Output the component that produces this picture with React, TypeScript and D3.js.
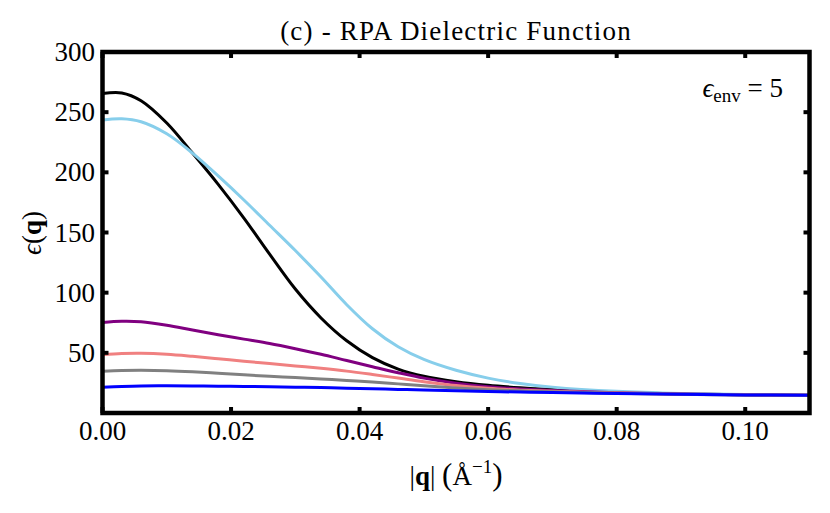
import React, { useEffect } from 'react';
import * as d3 from 'd3';

// |q| sample points (1/Å) shared by every curve
const qGrid = [0, 0.003, 0.006, 0.01, 0.014, 0.018, 0.022, 0.026, 0.03, 0.034, 0.038, 0.042, 0.046, 0.05, 0.055, 0.06, 0.065, 0.07, 0.08, 0.09, 0.1, 0.11];

const epsBlack = [265.5, 266, 259.5, 241, 216, 190, 162, 132, 103, 79, 60, 46, 36.5, 30.5, 26, 23, 21, 19.5, 17.2, 15.8, 15.1, 14.7];
const epsSky = [243.5, 244.5, 242, 232, 216, 197, 177, 156, 135, 113, 90, 70, 55, 44.5, 35.5, 29, 24.5, 21.5, 18, 16.2, 15.3, 14.8];
const epsPurple = [75.3, 76.3, 75.9, 73, 69, 65.1, 61.4, 57.7, 53.4, 48.8, 43.6, 38.5, 33.5, 29, 24.8, 21.8, 20, 18.7, 16.9, 15.7, 15.1, 14.7];
const epsCoral = [48.5, 49.4, 49.6, 48.8, 47.1, 45.1, 43, 41.1, 39.1, 37.1, 34.8, 32, 29, 26, 22.8, 20.5, 19, 18, 16.6, 15.6, 15.1, 14.7];
const epsGray = [34.7, 35.3, 35.5, 35.2, 34.3, 33, 31.7, 30.5, 29.4, 28.3, 27.1, 25.8, 24.2, 22.6, 20.8, 19.4, 18.4, 17.6, 16.4, 15.5, 15, 14.7];
const epsBlue = [21.5, 22.1, 22.5, 22.6, 22.5, 22.3, 22.1, 21.8, 21.5, 21.1, 20.6, 20.1, 19.6, 19.1, 18.5, 17.9, 17.4, 17, 16.2, 15.5, 15, 14.7];

const seriesList = [
  { name: 'black', color: '#000000', values: epsBlack },
  { name: 'sky', color: '#87CEEB', values: epsSky },
  { name: 'purple', color: '#800080', values: epsPurple },
  { name: 'coral', color: '#F08080', values: epsCoral },
  { name: 'gray', color: '#808080', values: epsGray },
  { name: 'blue', color: '#0000FF', values: epsBlue },
];

const xTicks = [0, 0.02, 0.04, 0.06, 0.08, 0.1];
const yTicks = [50, 100, 150, 200, 250, 300];

const W = 830;
const H = 513;
const FONT = '"Liberation Serif", "Times New Roman", serif';

export default function App() {
  useEffect(() => {
    document.body.style.margin = '0';
  }, []);

  const x = d3.scaleLinear().domain([0, 0.11]).range([102.5, 809.5]);
  const y = d3.scaleLinear().domain([0, 300]).range([413, 52]);

  const line = d3.line<number>()
    .x((_, i) => x(qGrid[i]))
    .y(d => y(d))
    .curve(d3.curveCatmullRom.alpha(0.5));

  const [x0, x1] = x.range();
  const [yb, yt] = y.range();
  const tickLen = 6;

  return (
    <svg width={W} height={H} viewBox={`0 0 ${W} ${H}`} style={{ display: 'block', background: '#fff' }}>
      <defs>
        <clipPath id="plot-area">
          <rect x={x0} y={yt} width={x1 - x0} height={yb - yt} />
        </clipPath>
      </defs>

      {/* curves */}
      <g clipPath="url(#plot-area)" fill="none" strokeWidth={3} strokeLinecap="round">
        {seriesList.map(s => (
          <path key={s.name} d={line(s.values) || ''} stroke={s.color} />
        ))}
      </g>

      {/* ticks, inward on all four sides */}
      <g stroke="#000" strokeWidth={4}>
        {xTicks.map(t => (
          <g key={'xt' + t}>
            <line x1={x(t)} x2={x(t)} y1={yb} y2={yb - tickLen} />
            <line x1={x(t)} x2={x(t)} y1={yt} y2={yt + tickLen} />
          </g>
        ))}
        {yTicks.map(t => (
          <g key={'yt' + t}>
            <line x1={x0} x2={x0 + tickLen} y1={y(t)} y2={y(t)} />
            <line x1={x1} x2={x1 - tickLen} y1={y(t)} y2={y(t)} />
          </g>
        ))}
      </g>

      {/* frame */}
      <rect x={x0} y={yt} width={x1 - x0} height={yb - yt} fill="none" stroke="#000" strokeWidth={4.5} />

      <g fontFamily={FONT} fontSize={27} fill="#000">
        {xTicks.map(t => (
          <text key={'xl' + t} x={x(t)} y={440} textAnchor="middle">{t.toFixed(2)}</text>
        ))}
        {yTicks.map(t => (
          <text key={'yl' + t} x={95} y={y(t) + 9} textAnchor="end">{t}</text>
        ))}

        <text x={(x0 + x1) / 2} y={40} textAnchor="middle" letterSpacing={1.2}>(c) - RPA Dielectric Function</text>

        <text x={(x0 + x1) / 2} y={485} textAnchor="middle">
          |<tspan fontWeight="bold">q</tspan>| <tspan fontSize={31}>(</tspan>Å<tspan fontSize={19} dy={-12}>−1</tspan><tspan dy={12} fontSize={31}>)</tspan>
        </text>

        <text transform="translate(41,233) rotate(-90)" textAnchor="middle">
          <tspan fontStyle="italic">ϵ</tspan>(<tspan fontWeight="bold">q</tspan>)
        </text>

        <text x={783} y={97} textAnchor="end">
          <tspan fontStyle="italic">ϵ</tspan><tspan fontSize={19} dy={5}>env</tspan><tspan dy={-5}> = 5</tspan>
        </text>
      </g>
    </svg>
  );
}
